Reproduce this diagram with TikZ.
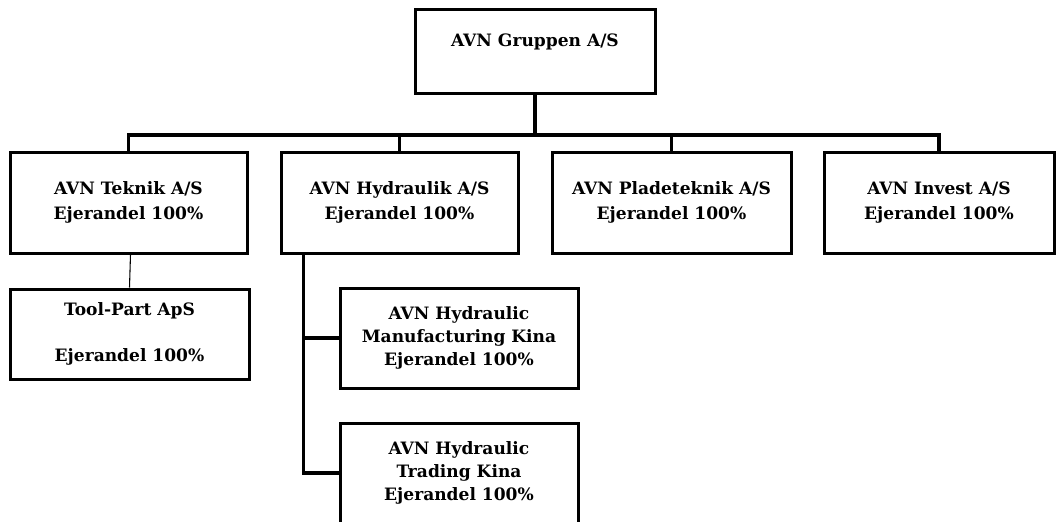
\documentclass[tikz,border=0pt]{standalone}
\usepackage{fontspec}
\setmainfont{DejaVu Serif}
\tikzset{
  orgbox/.style={draw, line width=2.25pt, align=center, inner sep=0pt,
    font=\fontsize{12.8}{19}\selectfont\bfseries},
  orgline/.style={line width=2.4pt},
  thinline/.style={line width=0.8pt}
}
\begin{document}
\begin{tikzpicture}[x=0.75pt,y=-0.75pt]
    \useasboundingbox (0,0) rectangle (1056,521);
    \clip (0,0) rectangle (1056,521);
    \def\rowh{75.75pt}
    \node[orgbox, minimum width=180pt, minimum height=63pt] (grp) at (535,51) {};
    \node[font=\fontsize{12.8}{19}\selectfont\bfseries] (grptxt) at (535,41.5) {AVN Gruppen A/S};

    \node[orgbox, minimum width=177.75pt, minimum height=\rowh] (tek) at (128.5,202.5) {AVN Teknik A/S\\Ejerandel 100\%};
    \node[orgbox, minimum width=177.75pt, minimum height=\rowh] (hyd) at (399.5,202.5) {AVN Hydraulik A/S\\Ejerandel 100\%};
    \node[orgbox, minimum width=179.25pt, minimum height=\rowh] (pla) at (671.5,202.5) {AVN Pladeteknik A/S\\Ejerandel 100\%};
    \node[orgbox, minimum width=172.5pt, minimum height=\rowh] (inv) at (939,202.5) {AVN Invest A/S\\Ejerandel 100\%};

    \node[orgbox, minimum width=179.25pt, minimum height=67.5pt] (tool) at (129.5,334) {Tool-Part ApS\\[15pt]Ejerandel 100\%};
    \node[orgbox, minimum width=178.5pt, minimum height=75pt] (man) at (459,338) {AVN Hydraulic\\[-2pt]Manufacturing Kina\\[-2pt]Ejerandel 100\%};
    \node[orgbox, minimum width=178.5pt, minimum height=75pt] (tra) at (459,473) {AVN Hydraulic\\[-2pt]Trading Kina\\[-2pt]Ejerandel 100\%};

    \coordinate (bar) at (535,135);
    \draw[orgline] (grp.south) -- (bar);
    \draw[orgline] (tek.north) -- (tek.north |- bar) -- (inv.north |- bar) -- (inv.north);
    \draw[orgline] (hyd.north |- bar) -- (hyd.north);
    \draw[orgline] (pla.north |- bar) -- (pla.north);

    \draw[thinline] ([xshift=1.5pt]tek.south) -- (tool.north);

    \path (hyd.south west) ++(24,0) coordinate (spine);
    \draw[orgline] (spine) |- (tra.west);
    \draw[orgline] (spine |- man.west) -- (man.west);
\end{tikzpicture}
\end{document}
